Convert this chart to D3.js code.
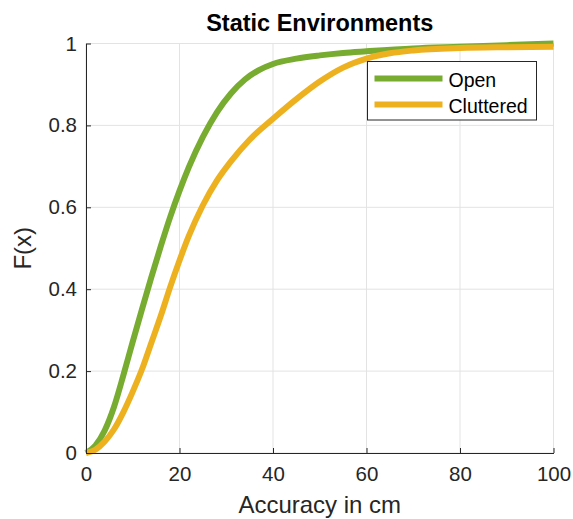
<!DOCTYPE html>
<html>
<head>
<meta charset="utf-8">
<script src="https://cdn.jsdelivr.net/npm/d3@7"></script>
<style>
  body { margin: 0; background: #fff; }
  svg { display: block; font-family: "Liberation Sans", Arial, sans-serif; }
</style>
</head>
<body>
<svg id="chart"></svg>
<script>
var openX = [0, 2, 4, 6, 8, 10, 12, 14, 16, 18, 20, 22, 25, 28, 31, 34, 37, 40, 45, 50, 55, 60, 70, 80, 90, 100];
var openF = [0, 0.018, 0.055, 0.113, 0.19, 0.272, 0.352, 0.43, 0.505, 0.576, 0.64, 0.698, 0.772, 0.832, 0.878, 0.912, 0.935, 0.95, 0.963, 0.971, 0.977, 0.981, 0.988, 0.992, 0.996, 1.0];

var clutX = [0, 2, 4, 6, 8, 10, 12, 14, 16, 18, 20, 22, 25, 28, 31, 35, 40, 45, 50, 55, 60, 65, 70, 80, 90, 100];
var clutF = [0, 0.008, 0.028, 0.058, 0.1, 0.15, 0.205, 0.27, 0.335, 0.405, 0.47, 0.53, 0.605, 0.665, 0.712, 0.765, 0.816, 0.864, 0.907, 0.941, 0.963, 0.976, 0.983, 0.989, 0.991, 0.992];

var xTicks = [0, 20, 40, 60, 80, 100];
var yTicks = [0, 0.2, 0.4, 0.6, 0.8, 1];
var yTickLabels = ["0", "0.2", "0.4", "0.6", "0.8", "1"];

var series = [
    { name: "Open", xs: openX, ys: openF, color: "#77AC30" },
    { name: "Cluttered", xs: clutX, ys: clutF, color: "#EDB120" }
];

var w = 573;
var h = 519;
var margin = { top: 43.5, right: 19.5, bottom: 66, left: 86 };

var svg = d3.select("#chart").attr("width", w).attr("height", h);
var width = w - margin.left - margin.right;
var height = h - margin.top - margin.bottom;

var g = svg.append("g")
    .attr("transform", "translate(" + margin.left + "," + margin.top + ")");

var x = d3.scaleLinear().domain([0, 100]).range([0, width]);
var y = d3.scaleLinear().domain([0, 1]).range([height, 0]);

// grid
g.append("g").selectAll("line.vg")
    .data(xTicks).enter().append("line")
    .attr("x1", function(d) { return x(d); })
    .attr("x2", function(d) { return x(d); })
    .attr("y1", 0).attr("y2", height)
    .attr("stroke", "#e3e3e3").attr("stroke-width", 1);

g.append("g").selectAll("line.hg")
    .data(yTicks).enter().append("line")
    .attr("x1", 0).attr("x2", width)
    .attr("y1", function(d) { return y(d); })
    .attr("y2", function(d) { return y(d); })
    .attr("stroke", "#e3e3e3").attr("stroke-width", 1);

// curves
var line = d3.line()
    .x(function(d) { return x(d[0]); })
    .y(function(d) { return y(d[1]); })
    .curve(d3.curveMonotoneX);

series.forEach(function(s) {
    var pts = s.xs.map(function(v, i) { return [v, s.ys[i]]; });
    g.append("path")
        .datum(pts)
        .attr("fill", "none")
        .attr("stroke", s.color)
        .attr("stroke-width", 6)
        .attr("d", line);
});

// axes (ticks pointing inward, like MATLAB)
var xAxis = g.append("g")
    .attr("transform", "translate(0," + height + ")")
    .call(d3.axisBottom(x).tickValues(xTicks).tickSizeInner(-5).tickSizeOuter(0).tickPadding(13));

var yAxis = g.append("g")
    .call(d3.axisLeft(y).tickValues(yTicks).tickSizeInner(-5).tickSizeOuter(0).tickPadding(9)
        .tickFormat(function(d, i) { return yTickLabels[i]; }));

[xAxis, yAxis].forEach(function(a) {
    a.select(".domain").attr("stroke", "#262626");
    a.selectAll(".tick line").attr("stroke", "#262626");
    a.selectAll(".tick text")
        .attr("fill", "#262626")
        .style("font-size", "20.5px")
        .style("font-family", "'Liberation Sans', Arial, sans-serif");
});

// title and axis labels
svg.append("text")
    .attr("x", margin.left + width / 2)
    .attr("y", 31)
    .attr("text-anchor", "middle")
    .style("font-size", "23.5px")
    .style("font-weight", "bold")
    .attr("fill", "#000")
    .text("Static Environments");

svg.append("text")
    .attr("x", margin.left + width / 2)
    .attr("y", 513)
    .attr("text-anchor", "middle")
    .style("font-size", "24px")
    .attr("fill", "#262626")
    .text("Accuracy in cm");

svg.append("text")
    .attr("text-anchor", "middle")
    .attr("transform", "translate(31," + (margin.top + height / 2) + ")rotate(-90)")
    .style("font-size", "24px")
    .attr("fill", "#262626")
    .text("F(x)");

// legend
var legend = svg.append("g").attr("transform", "translate(367.5,61.5)");
legend.append("rect")
    .attr("width", 169).attr("height", 58.5)
    .attr("fill", "#fff").attr("stroke", "#262626").attr("stroke-width", 1);

series.forEach(function(s, i) {
    var ly = 17 + i * 26;
    legend.append("line")
        .attr("x1", 7).attr("x2", 75)
        .attr("y1", ly).attr("y2", ly)
        .attr("stroke", s.color).attr("stroke-width", 6);
    legend.append("text")
        .attr("x", 81).attr("y", ly + 8)
        .style("font-size", "19.5px")
        .attr("fill", "#000")
        .text(s.name);
});
</script>
</body>
</html>
